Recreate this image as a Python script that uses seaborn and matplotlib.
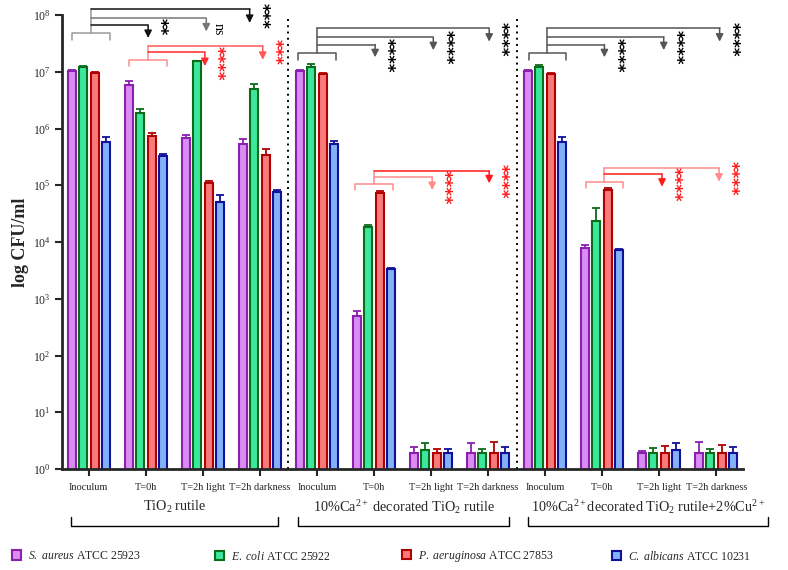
import numpy as np
import pandas as pd
import matplotlib
matplotlib.use("Agg")
import matplotlib.pyplot as plt
import matplotlib.transforms as mtransforms
from matplotlib.patches import Patch
from matplotlib.ticker import NullLocator
import seaborn as sns

# ---------------- data ----------------
materials = ["TiO2 rutile", "10%Ca TiO2 rutile", "10%Ca TiO2 rutile+2%Cu"]
times = ["Inoculum", "T=0h", "T=2h light", "T=2h darkness"]
strains = ["S. aureus", "E. coli", "P. aeruginosa", "C. albicans"]

s_aureus = [1.05e7, 5.9e6, 6.9e5, 5.4e5, 1.03e7, 500, 1.95, 1.95, 1.03e7, 7.9e3, 1.95, 1.95]
e_coli = [1.23e7, 1.86e6, 1.52e7, 4.9e6, 1.23e7, 1.86e4, 2.15, 1.95, 1.23e7, 2.3e4, 1.95, 1.95]
p_aeruginosa = [9.4e6, 7.4e5, 1.11e5, 3.4e5, 9.3e6, 7.4e4, 1.95, 1.95, 9.3e6, 8.3e4, 1.95, 1.95]
c_albicans = [5.9e5, 3.3e5, 5.0e4, 7.5e4, 5.4e5, 3.3e3, 1.95, 1.95, 5.9e5, 7.2e3, 2.15, 1.95]

s_aureus_err = [2e5, 1.0e6, 7e4, 1.2e5, 3e5, 100, 0.5, 0.95, 3e5, 1e3, 0.14, 1.0]
e_coli_err = [5e5, 3.8e5, 3e5, 1.1e6, 1.2e6, 1.4e3, 0.67, 0.29, 6e5, 1.6e4, 0.44, 0.34]
p_aeruginosa_err = [5e5, 1.1e5, 9e3, 9e4, 2e5, 5e3, 0.3, 1.0, 2e5, 8e3, 0.6, 0.75]
c_albicans_err = [1.3e5, 3e4, 1.6e4, 6e3, 6e4, 200, 0.27, 0.5, 1.3e5, 4e2, 0.67, 0.5]

values = [s_aureus, e_coli, p_aeruginosa, c_albicans]
errors = [s_aureus_err, e_coli_err, p_aeruginosa_err, c_albicans_err]

conds = [f"{m}|{t}" for m in materials for t in times]
rows = []
for s, vals in zip(strains, values):
    for c, v in zip(conds, vals):
        rows.append({"cond": c, "strain": s, "cfu": v})
df = pd.DataFrame(rows)

# significance annotations: (source group, bracket log-y, tick-end log-y,
#   [(target x, line log-y, arrow-end log-y, label, line colour)], bracket colour, text colour)
comparisons = [
    (0.035, 7.675, 7.56, [(1.04, 7.82, 7.595, "**", "#111111"),
                          (2.06, 7.94, 7.71, "ns", "#777777"),
                          (2.82, 8.10, 7.86, "***", "#111111")], "#9a9a9a", "black"),
    (1.035, 7.20, 7.10, [(2.035, 7.34, 7.10, "****", "#ff2a2a"),
                         (3.05, 7.45, 7.21, "***", "#ff5a5a")], "#ff8c8c", "#ff1a1a"),
    (4.005, 7.335, 7.21, [(5.02, 7.48, 7.255, "****", "#555555"),
                          (6.04, 7.607, 7.38, "****", "#555555"),
                          (7.02, 7.765, 7.53, "****", "#555555")], "#555555", "black"),
    (5.005, 5.017, 4.92, [(6.02, 5.15, 4.916, "****", "#ff8c8c"),
                          (7.02, 5.256, 5.034, "****", "#ff1a1a")], "#ff8c8c", "#ff1a1a"),
    (8.04, 7.335, 7.21, [(9.04, 7.48, 7.255, "****", "#555555"),
                         (10.08, 7.607, 7.38, "****", "#555555"),
                         (11.06, 7.765, 7.53, "****", "#555555")], "#555555", "black"),
    (9.04, 5.063, 4.96, [(10.05, 5.198, 4.974, "****", "#ff1a1a"),
                         (11.05, 5.309, 5.063, "****", "#ff8c8c")], "#ff8c8c", "#ff1a1a"),
]

group_labels = [r"TiO$_2$ rutile",
                r"10%Ca$^{2+}$ decorated TiO$_2$ rutile",
                r"10%Ca$^{2+}$decorated TiO$_2$ rutile+2%Cu$^{2+}$"]
group_spans = [(-0.32, 3.32), (3.67, 7.37), (7.7, 11.9)]

legend_labels = [r"$\mathit{S.\ aureus}$ ATCC 25923",
                 r"$\mathit{E.\ coli}$ ATCC 25922",
                 r"$\mathit{P.\ aeruginosa}$ ATCC 27853",
                 r"$\mathit{C.\ albicans}$ ATCC 10231"]

fills = ["#d98cf2", "#3de89e", "#f77b7b", "#82b2f5"]
edges = ["#8a1fb0", "#0d6b1c", "#b00000", "#10109a"]

# ---------------- style ----------------
sns.set_style("ticks")
plt.rcParams["font.family"] = ["Liberation Serif", "DejaVu Serif"]
plt.rcParams["mathtext.fontset"] = "custom"
plt.rcParams["mathtext.rm"] = "Liberation Serif"
plt.rcParams["mathtext.it"] = "Liberation Serif:italic"
plt.rcParams["mathtext.bf"] = "Liberation Serif:bold"

fig = plt.figure(figsize=(7.88, 5.70), dpi=100)
ax = fig.add_axes([62 / 788, 101 / 570, 681 / 788, 454 / 570])

sns.barplot(data=df, x="cond", y="cfu", hue="strain", order=conds, hue_order=strains,
            palette=fills, width=0.8, gap=0.3, errorbar=None, saturation=1,
            legend=False, ax=ax)
ax.set_yscale("log")

bar_containers = list(ax.containers)
for i, cont in enumerate(bar_containers):
    xs = []
    for bar in cont:
        bar.set_edgecolor(edges[i])
        bar.set_linewidth(1.5)
        xs.append(bar.get_x() + bar.get_width() / 2)
    ax.errorbar(xs, values[i], yerr=[np.zeros(len(xs)), errors[i]], fmt="none",
                ecolor=edges[i], elinewidth=1.3, capsize=2.6, capthick=1.3, zorder=1)

ax.set_ylim(1, 1e8)
ax.set_xlim(-0.47, 11.47)
ax.set_yticks([10 ** k for k in range(9)])
ax.set_yticklabels([f"$10^{{{k}}}$" for k in range(9)], fontsize=8.5)
ax.yaxis.set_minor_locator(NullLocator())
ax.set_xticks(range(len(conds)))
ax.set_xticklabels(times * len(materials), fontsize=7.5)
ax.set_xlabel("")
ax.set_ylabel("log CFU/ml", fontsize=13, fontweight="bold", labelpad=3)
sns.despine(ax=ax)
for sp in ["left", "bottom"]:
    ax.spines[sp].set_linewidth(2)
ax.tick_params(axis="both", direction="out", length=5, width=1.5, pad=3)
ax.tick_params(axis="x", pad=5)

for xs in [3.5, 7.5]:
    ax.axvline(xs, color="black", ls=(0, (1, 2.2)), lw=1.4, zorder=0)

# significance brackets
for center, ybr, ydrop, lines, cbr, ctext in comparisons:
    half = 0.33
    ax.plot([center - half, center - half, center + half, center + half],
            [10 ** ydrop, 10 ** ybr, 10 ** ybr, 10 ** ydrop], color=cbr, lw=1.1, clip_on=False)
    ytop = max(l[1] for l in lines)
    ax.plot([center, center], [10 ** ybr, 10 ** ytop], color=cbr, lw=1.1, clip_on=False)
    for tx, yl, ya, lab, cl in lines:
        ax.plot([center, tx], [10 ** yl, 10 ** yl], color=cl, lw=1.1, clip_on=False)
        ax.annotate("", xy=(tx, 10 ** ya), xytext=(tx, 10 ** yl),
                    arrowprops=dict(arrowstyle="-|>", color=cl, lw=1.1,
                                    mutation_scale=11, shrinkA=0, shrinkB=0),
                    annotation_clip=False)
        if lab == "ns":
            ax.text(tx + 0.2, 10 ** (yl - 0.08), lab, rotation=270, ha="center", va="top",
                    fontsize=10, color=ctext, clip_on=False)
        else:
            ax.text(tx + 0.21, 10 ** (yl + 0.12), lab, rotation=270, ha="center", va="top",
                    fontsize=12, fontweight="bold", color=ctext, clip_on=False,
                    family=["DejaVu Sans"])

# group labels below axis
trans = mtransforms.blended_transform_factory(ax.transData, ax.transAxes)
for (x0, x1), lab in zip(group_spans, group_labels):
    ax.plot([x0, x0, x1, x1], [-0.106, -0.1256, -0.1256, -0.106], color="black", lw=1.0,
            transform=trans, clip_on=False)
    ax.text((x0 + x1) / 2, -0.083, lab, transform=trans, ha="center", va="center",
            fontsize=10.3)

# legend
leg_x = [15, 218, 405, 615]
for i in range(4):
    h = Patch(facecolor=fills[i], edgecolor=edges[i], linewidth=1.5)
    fig.legend([h], [legend_labels[i]], loc="center left",
               bbox_to_anchor=(leg_x[i] / 788 - 0.004, 1 - 556 / 570), frameon=False,
               handlelength=0.75, handleheight=0.9, handletextpad=0.6, borderpad=0,
               borderaxespad=0, fontsize=8.5)

fig.savefig("out.png", dpi=100)
